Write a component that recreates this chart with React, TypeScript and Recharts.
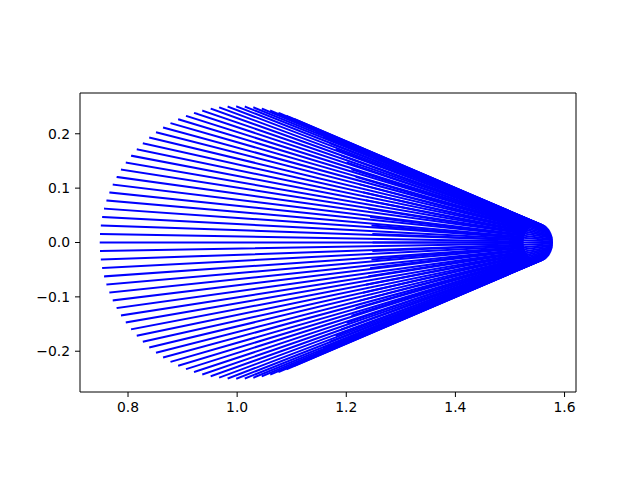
import { LineChart, Line, XAxis, YAxis, ReferenceLine } from 'recharts';

// Cone drawn as 100 generator lines: each runs from a point on the base circle (left)
// to the matching point on the small apex circle (right).
const leftX = [
  1.25, 1.2495, 1.248, 1.2456, 1.2421, 1.2378, 1.2324, 1.2262, 1.2191, 1.2111, 1.2023, 1.1926, 1.1822, 1.1711, 1.1594, 1.1469, 1.134, 1.1204, 1.1064, 1.092, 1.0773, 1.0622, 1.0468, 1.0313, 1.0157,
  1.0, 0.9843, 0.9687, 0.9532, 0.9378, 0.9227, 0.908, 0.8936, 0.8796, 0.866, 0.8531, 0.8406, 0.8289, 0.8178, 0.8074, 0.7977, 0.7889, 0.7809, 0.7738, 0.7676, 0.7622, 0.7579, 0.7544, 0.752, 0.7505,
  0.75, 0.7505, 0.752, 0.7544, 0.7579, 0.7622, 0.7676, 0.7738, 0.7809, 0.7889, 0.7977, 0.8074, 0.8178, 0.8289, 0.8406, 0.8531, 0.866, 0.8796, 0.8936, 0.908, 0.9227, 0.9378, 0.9532, 0.9687, 0.9843,
  1.0, 1.0157, 1.0313, 1.0468, 1.0622, 1.0773, 1.092, 1.1064, 1.1204, 1.134, 1.1469, 1.1594, 1.1711, 1.1822, 1.1926, 1.2023, 1.2111, 1.2191, 1.2262, 1.2324, 1.2378, 1.2421, 1.2456, 1.248, 1.2495,
];

const leftY = [
  0, 0.0157, 0.0313, 0.0468, 0.0622, 0.0773, 0.092, 0.1064, 0.1204, 0.134, 0.1469, 0.1594, 0.1711, 0.1822, 0.1926, 0.2023, 0.2111, 0.2191, 0.2262, 0.2324, 0.2378, 0.2421, 0.2456, 0.248, 0.2495,
  0.25, 0.2495, 0.248, 0.2456, 0.2421, 0.2378, 0.2324, 0.2262, 0.2191, 0.2111, 0.2023, 0.1926, 0.1822, 0.1711, 0.1594, 0.1469, 0.134, 0.1204, 0.1064, 0.092, 0.0773, 0.0622, 0.0468, 0.0313, 0.0157,
  0, -0.0157, -0.0313, -0.0468, -0.0622, -0.0773, -0.092, -0.1064, -0.1204, -0.134, -0.1469, -0.1594, -0.1711, -0.1822, -0.1926, -0.2023, -0.2111, -0.2191, -0.2262, -0.2324, -0.2378, -0.2421, -0.2456, -0.248, -0.2495,
  -0.25, -0.2495, -0.248, -0.2456, -0.2421, -0.2378, -0.2324, -0.2262, -0.2191, -0.2111, -0.2023, -0.1926, -0.1822, -0.1711, -0.1594, -0.1469, -0.134, -0.1204, -0.1064, -0.092, -0.0773, -0.0622, -0.0468, -0.0313, -0.0157,
];

const rightX = [
  1.577, 1.5769, 1.5768, 1.5765, 1.5762, 1.5757, 1.5751, 1.5744, 1.5737, 1.5728, 1.5718, 1.5708, 1.5697, 1.5685, 1.5672, 1.5659, 1.5645, 1.563, 1.5615, 1.5599, 1.5583, 1.5567, 1.5551, 1.5534, 1.5517,
  1.55, 1.5483, 1.5466, 1.5449, 1.5433, 1.5417, 1.5401, 1.5385, 1.537, 1.5355, 1.5341, 1.5328, 1.5315, 1.5303, 1.5292, 1.5282, 1.5272, 1.5263, 1.5256, 1.5249, 1.5243, 1.5238, 1.5235, 1.5232, 1.5231,
  1.523, 1.5231, 1.5232, 1.5235, 1.5238, 1.5243, 1.5249, 1.5256, 1.5263, 1.5272, 1.5282, 1.5292, 1.5303, 1.5315, 1.5328, 1.5341, 1.5355, 1.537, 1.5385, 1.5401, 1.5417, 1.5433, 1.5449, 1.5466, 1.5483,
  1.55, 1.5517, 1.5534, 1.5551, 1.5567, 1.5583, 1.5599, 1.5615, 1.563, 1.5645, 1.5659, 1.5672, 1.5685, 1.5697, 1.5708, 1.5718, 1.5728, 1.5737, 1.5744, 1.5751, 1.5757, 1.5762, 1.5765, 1.5768, 1.5769,
];

const rightY = [
  0, 0.0021, 0.0043, 0.0064, 0.0085, 0.0105, 0.0125, 0.0145, 0.0164, 0.0182, 0.02, 0.0217, 0.0233, 0.0248, 0.0262, 0.0275, 0.0287, 0.0298, 0.0308, 0.0316, 0.0323, 0.0329, 0.0334, 0.0337, 0.0339,
  0.034, 0.0339, 0.0337, 0.0334, 0.0329, 0.0323, 0.0316, 0.0308, 0.0298, 0.0287, 0.0275, 0.0262, 0.0248, 0.0233, 0.0217, 0.02, 0.0182, 0.0164, 0.0145, 0.0125, 0.0105, 0.0085, 0.0064, 0.0043, 0.0021,
  0, -0.0021, -0.0043, -0.0064, -0.0085, -0.0105, -0.0125, -0.0145, -0.0164, -0.0182, -0.02, -0.0217, -0.0233, -0.0248, -0.0262, -0.0275, -0.0287, -0.0298, -0.0308, -0.0316, -0.0323, -0.0329, -0.0334, -0.0337, -0.0339,
  -0.034, -0.0339, -0.0337, -0.0334, -0.0329, -0.0323, -0.0316, -0.0308, -0.0298, -0.0287, -0.0275, -0.0262, -0.0248, -0.0233, -0.0217, -0.02, -0.0182, -0.0164, -0.0145, -0.0125, -0.0105, -0.0085, -0.0064, -0.0043, -0.0021,
];

const xTicks = [0.8, 1.0, 1.2, 1.4, 1.6];
const yTicks = [-0.2, -0.1, 0.0, 0.1, 0.2];
const xDomain = [0.712, 1.621];
const yDomain = [-0.275, 0.275];

const segments = leftX.map((x, i) => [
  { x, y: leftY[i] },
  { x: rightX[i], y: rightY[i] },
]);

const tickStyle = { fill: '#000', fontSize: 13.9, fontFamily: 'DejaVu Sans' };

const fmtY = (v: number) => (v < 0 ? '\u2212' + Math.abs(v).toFixed(1) : v.toFixed(1));

export default function App() {
  return (
    <div style={{ position: 'absolute', left: 0, top: 0, width: 640, height: 480, background: '#fff' }}>
      <LineChart width={640} height={480} margin={{ top: 93, right: 64, bottom: 58, left: 20 }}>
        <XAxis
          dataKey="x"
          type="number"
          domain={xDomain}
          ticks={xTicks}
          interval={0}
          allowDataOverflow
          tickFormatter={(v: number) => v.toFixed(1)}
          height={30}
          tickSize={5}
          tickMargin={5}
          stroke="#000"
          tick={tickStyle}
        />
        <YAxis
          type="number"
          domain={yDomain}
          ticks={yTicks}
          interval={0}
          allowDataOverflow
          tickFormatter={fmtY}
          width={60}
          tickSize={5}
          tickMargin={5}
          stroke="#000"
          tick={tickStyle}
        />
        {segments.map((seg, i) => (
          <Line
            key={i}
            data={seg}
            dataKey="y"
            type="linear"
            stroke="#0000ff"
            strokeWidth={2}
            strokeLinecap="square"
            dot={false}
            activeDot={false}
            isAnimationActive={false}
          />
        ))}
        {/* top and right spines */}
        <ReferenceLine y={yDomain[1]} stroke="#000" strokeWidth={1} ifOverflow="visible" />
        <ReferenceLine x={xDomain[1]} stroke="#000" strokeWidth={1} ifOverflow="visible" />
      </LineChart>
    </div>
  );
}
